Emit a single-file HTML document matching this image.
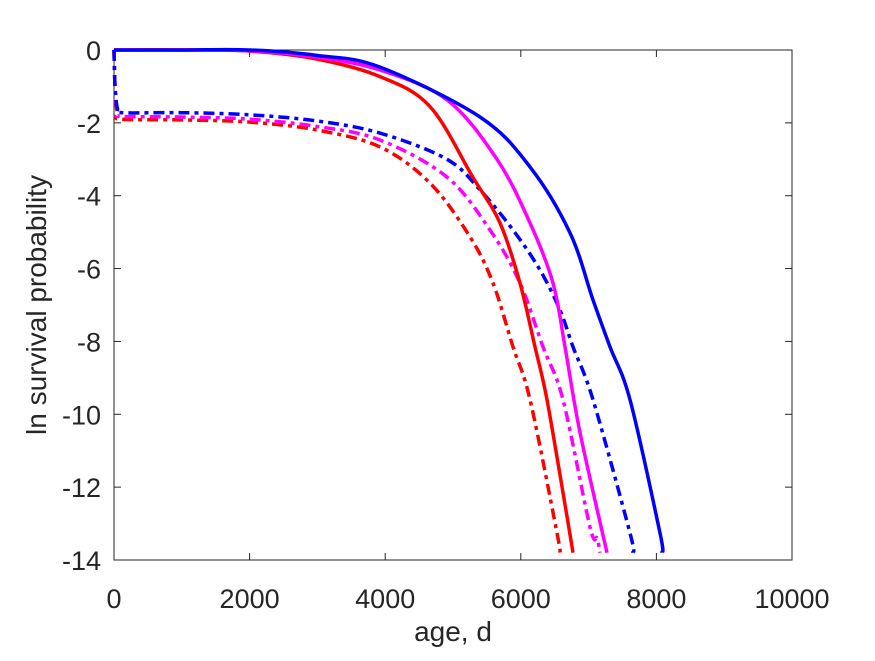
<!DOCTYPE html>
<html><head><meta charset="utf-8"><style>
body{margin:0;background:#fff;}
svg text{font-family:"Liberation Sans",sans-serif;fill:#262626;}
</style></head><body>
<svg id="chart" width="875" height="656" xmlns="http://www.w3.org/2000/svg">
<rect width="875" height="656" fill="#fff"/>
<g id="plot"></g>
</svg>
<script>
const xTicks=[0,2000,4000,6000,8000,10000];
const yTicks=[0,-2,-4,-6,-8,-10,-12,-14];
const redSolidX=[0,1000,2000,3000,3923,4660,5295,5693,5988,6209,6386,6681,6770];
const redSolidY=[0,0,-0.03,-0.25,-0.73,-1.55,-3.5,-4.75,-6.4,-8.15,-9.6,-12.8,-13.8];
const magSolidX=[0,1000,2000,3000,3923,4911,5649,6136,6475,6652,6873,7271];
const magSolidY=[0,0,-0.02,-0.2,-0.55,-1.37,-3.0,-4.75,-6.4,-8.15,-10.5,-13.8];
const blueSolidX=[0,1000,2000,3000,3923,5398,6136,6726,7065,7316,7610,8053,8083];
const blueSolidY=[0,0,0,-0.15,-0.47,-1.84,-3.21,-5.02,-6.86,-8.15,-9.6,-13.26,-13.8];
const redDashX=[0,15,50,120,1000,2000,3000,3923,4660,5251,5590,5885,6136,6534,6578];
const redDashY=[0,-1.0,-1.75,-1.9,-1.92,-1.98,-2.2,-2.66,-3.65,-5.13,-6.4,-8.15,-9.6,-13.26,-13.8];
const magDashX=[0,15,50,120,1000,2000,3000,3923,4911,5546,5988,6327,6622,7021,7124,7168];
const magDashY=[0,-1.0,-1.7,-1.82,-1.84,-1.9,-2.1,-2.47,-3.49,-4.94,-6.4,-8.15,-9.6,-13.1,-13.4,-13.8];
const blueDashX=[0,15,50,120,1000,2000,3000,3923,4911,5398,5885,6283,6578,6770,7065,7610,7655];
const blueDashY=[0,-1.0,-1.6,-1.72,-1.72,-1.78,-1.95,-2.28,-3.0,-3.84,-4.94,-6.04,-7.14,-8.15,-9.6,-13.26,-13.8];

const X0=114,X1=792,Y0=50,Y1=560;
const sx=v=>X0+(v-0)/(10000)*(X1-X0);
const sy=v=>Y0+(0-v)/14*(Y1-Y0);
const NS='http://www.w3.org/2000/svg';
const g=document.getElementById('plot');
function mk(tag,attrs){const e=document.createElementNS(NS,tag);for(const k in attrs)e.setAttribute(k,attrs[k]);g.appendChild(e);return e;}

const box=mk('rect',{x:X0,y:Y0,width:X1-X0,height:Y1-Y0,fill:'none',stroke:'#262626','stroke-width':1});



xTicks.forEach(t=>{
  const x=sx(t);
  const a=mk('line',{x1:x,x2:x,y1:Y1,y2:Y1-7,stroke:'#262626'});
  
  
  const b=mk('line',{x1:x,x2:x,y1:Y0,y2:Y0+7,stroke:'#262626'});
  
  
  const tx=mk('text',{x:x,y:Y1+48,'text-anchor':'middle','font-size':27});
  tx.textContent=t;
  
  
});
yTicks.forEach(t=>{
  const y=sy(t);
  const a=mk('line',{x1:X0,x2:X0+7,y1:y,y2:y,stroke:'#262626'});
  
  
  const b=mk('line',{x1:X1,x2:X1-7,y1:y,y2:y,stroke:'#262626'});
  
  
  const tx=mk('text',{x:X0-13,y:y+10,'text-anchor':'end','font-size':27});
  tx.textContent=t===0?'0':'-'+Math.abs(t);
  
  
});

function series(xs,ys,color,dash,name){
  const P=xs.map((v,i)=>[sx(v),sy(ys[i])]);
  let d='M'+P[0][0].toFixed(1)+','+P[0][1].toFixed(1);
  for(let i=0;i<P.length-1;i++){
    const p0=P[Math.max(0,i-1)],p1=P[i],p2=P[i+1],p3=P[Math.min(P.length-1,i+2)];
    const c1=[p1[0]+(p2[0]-p0[0])/6,p1[1]+(p2[1]-p0[1])/6];
    const c2=[p2[0]-(p3[0]-p1[0])/6,p2[1]-(p3[1]-p1[1])/6];
    d+=' C'+c1[0].toFixed(1)+','+c1[1].toFixed(1)+' '+c2[0].toFixed(1)+','+c2[1].toFixed(1)+' '+p2[0].toFixed(1)+','+p2[1].toFixed(1);
  }
  const p=mk('path',{d:d,fill:'none',stroke:color,'stroke-width':3.5,'stroke-linejoin':'round'});
  if(dash)p.setAttribute('stroke-dasharray','11 5 4 5');
  
  
}
series(redDashX,redDashY,'#ff0000',true,'red-dashdot-line');
series(magDashX,magDashY,'#ff00ff',true,'magenta-dashdot-line');
series(blueDashX,blueDashY,'#0000ff',true,'blue-dashdot-line');
series(redSolidX,redSolidY,'#ff0000',false,'red-solid-line');
series(magSolidX,magSolidY,'#ff00ff',false,'magenta-solid-line');
series(blueSolidX,blueSolidY,'#0000ff',false,'blue-solid-line');

const xl=mk('text',{x:(X0+X1)/2,y:641,'text-anchor':'middle','font-size':28});
xl.textContent='age, d';


const yl=mk('text',{x:0,y:0,'text-anchor':'middle','font-size':28,transform:'translate(46,'+((Y0+Y1)/2)+') rotate(-90)'});
yl.textContent='ln survival probability';


</script>
</body></html>
